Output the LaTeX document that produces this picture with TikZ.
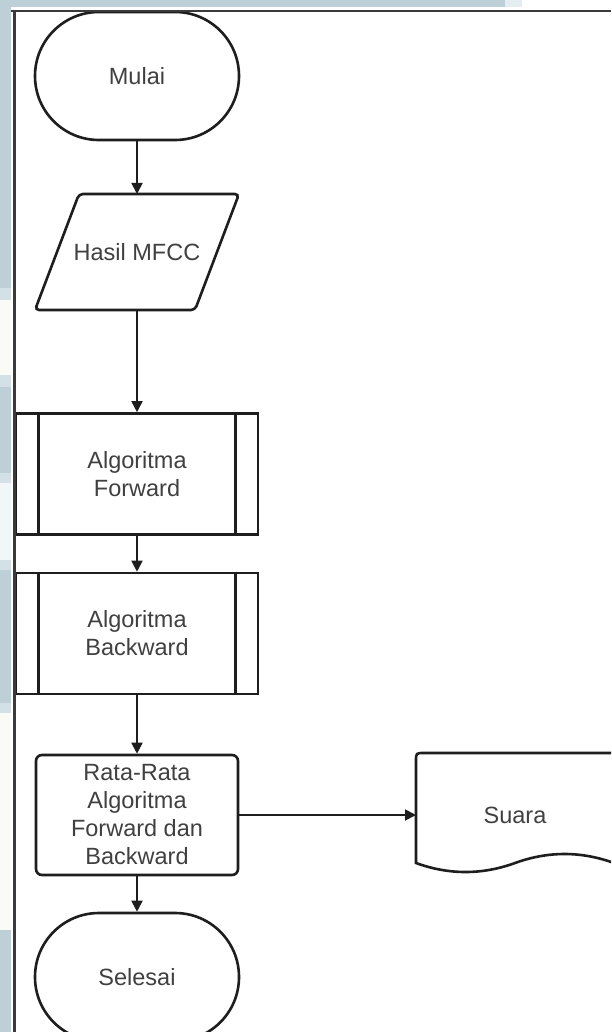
\documentclass[tikz,border=0pt]{standalone}
\usepackage{fontspec}
\setmainfont{Liberation Sans}
\usetikzlibrary{arrows.meta,calc}

\definecolor{strip}{HTML}{BDD0D7}
\definecolor{stripmid}{HTML}{D3E1E7}
\definecolor{striplight}{HTML}{F1F6F9}
\definecolor{stripwhite}{HTML}{FAFAF7}
\definecolor{frameline}{HTML}{3A3A3A}
\definecolor{ink}{HTML}{1E1E1E}
\definecolor{label}{HTML}{404040}

\begin{document}
\begin{tikzpicture}[x=1pt,y=-1pt,
  every node/.style={font=\fontsize{23.5}{28}\selectfont, text=label,
    align=center, inner sep=0pt},
  shapeline/.style={draw=ink, line width=2.6pt, fill=white},
  terminal/.style={shapeline, rounded corners=63.9pt,
    minimum width=204pt, minimum height=128pt},
  procbox/.style={shapeline, minimum width=242pt, minimum height=121pt},
  rectbox/.style={shapeline, rounded corners=6pt,
    minimum width=202pt, minimum height=120pt},
  textarea/.style={outer sep=0pt},
  flow/.style={draw=ink, line width=1.8pt,
    -{Triangle[length=11pt,width=11pt]}},
  border/.style={draw=frameline, line width=2.2pt}
]
\useasboundingbox (0,0) rectangle (611,1032);
\clip (0,0) rectangle (611,1032);

% window background and side panels
\fill[white] (0,0) rectangle (611,1032);
\fill[strip]      (0,0)   rectangle (11,288);
\fill[stripmid]   (0,288) rectangle (11,300);
\fill[stripwhite] (0,300) rectangle (11,375);
\fill[stripmid]   (0,375) rectangle (11,387);
\fill[strip]      (0,387) rectangle (11,473);
\fill[stripmid]   (0,473) rectangle (11,483);
\fill[striplight] (0,483) rectangle (11,560);
\fill[stripmid]   (0,560) rectangle (11,570);
\fill[strip]      (0,570) rectangle (11,703);
\fill[stripmid]   (0,703) rectangle (11,713);
\fill[stripwhite] (0,713) rectangle (11,930);
\fill[strip]      (0,930) rectangle (11,1032);
\fill[strip]      (0,0)   rectangle (505,7);
\fill[stripmid!60!white] (505,0) rectangle (522,7);

% start / end terminals
\node[terminal] (mulai) at (137,76) {Mulai};
\node[terminal] (selesai) at (137,977) {Selesai};

% input / output (parallelogram)
\node[textarea, minimum width=204pt, minimum height=116pt] (hasil) at (137,252) {};
\draw[shapeline, rounded corners=4pt]
  ($(hasil.north west)+(44,0)$) -- (hasil.north east)
  -- ($(hasil.south east)+(-44,0)$) -- (hasil.south west) -- cycle;
\node (hasiltext) at (hasil) {Hasil MFCC};

% predefined processes
\node[procbox] (fwd) at (137,474) {Algoritma\\Forward};
\node[procbox] (bwd) at (137,633.5) {Algoritma\\Backward};
\foreach \p in {fwd,bwd}{
  \draw[draw=ink, line width=2.6pt]
    ($(\p.north west)+(24,0)$) -- ($(\p.south west)+(24,0)$);
  \draw[draw=ink, line width=2.6pt]
    ($(\p.north east)+(-24,0)$) -- ($(\p.south east)+(-24,0)$);
}

% process
\node[rectbox] (rata) at (137,815) {Rata-Rata\\Algoritma\\Forward dan\\Backward};

% document
\node[textarea, minimum width=198pt, minimum height=124pt] (suara) at (515,815) {};
\draw[shapeline]
  (614,863) .. controls (581,851) and (548,851) .. (515,863)
  .. controls (482,875) and (449,875) .. (416,863)
  -- (416,761) .. controls (416,753) .. (424,753) -- (614,753) -- cycle;
\node (suaratext) at (suara) {Suara};

% connectors
\draw[flow] (mulai.south) -- (hasil.north);
\draw[flow] (hasil.south) -- (fwd.north);
\draw[flow] (fwd.south) -- (bwd.north);
\draw[flow] (bwd.south) -- (rata.north);
\draw[flow] (rata.south) -- (selesai.north);
\draw[flow] (rata.east) -- (suara.west);

% window frame
\draw[border] (11,11) -- (611,11);
\draw[border] (14.5,11) -- (14.5,1032);
\end{tikzpicture}
\end{document}
